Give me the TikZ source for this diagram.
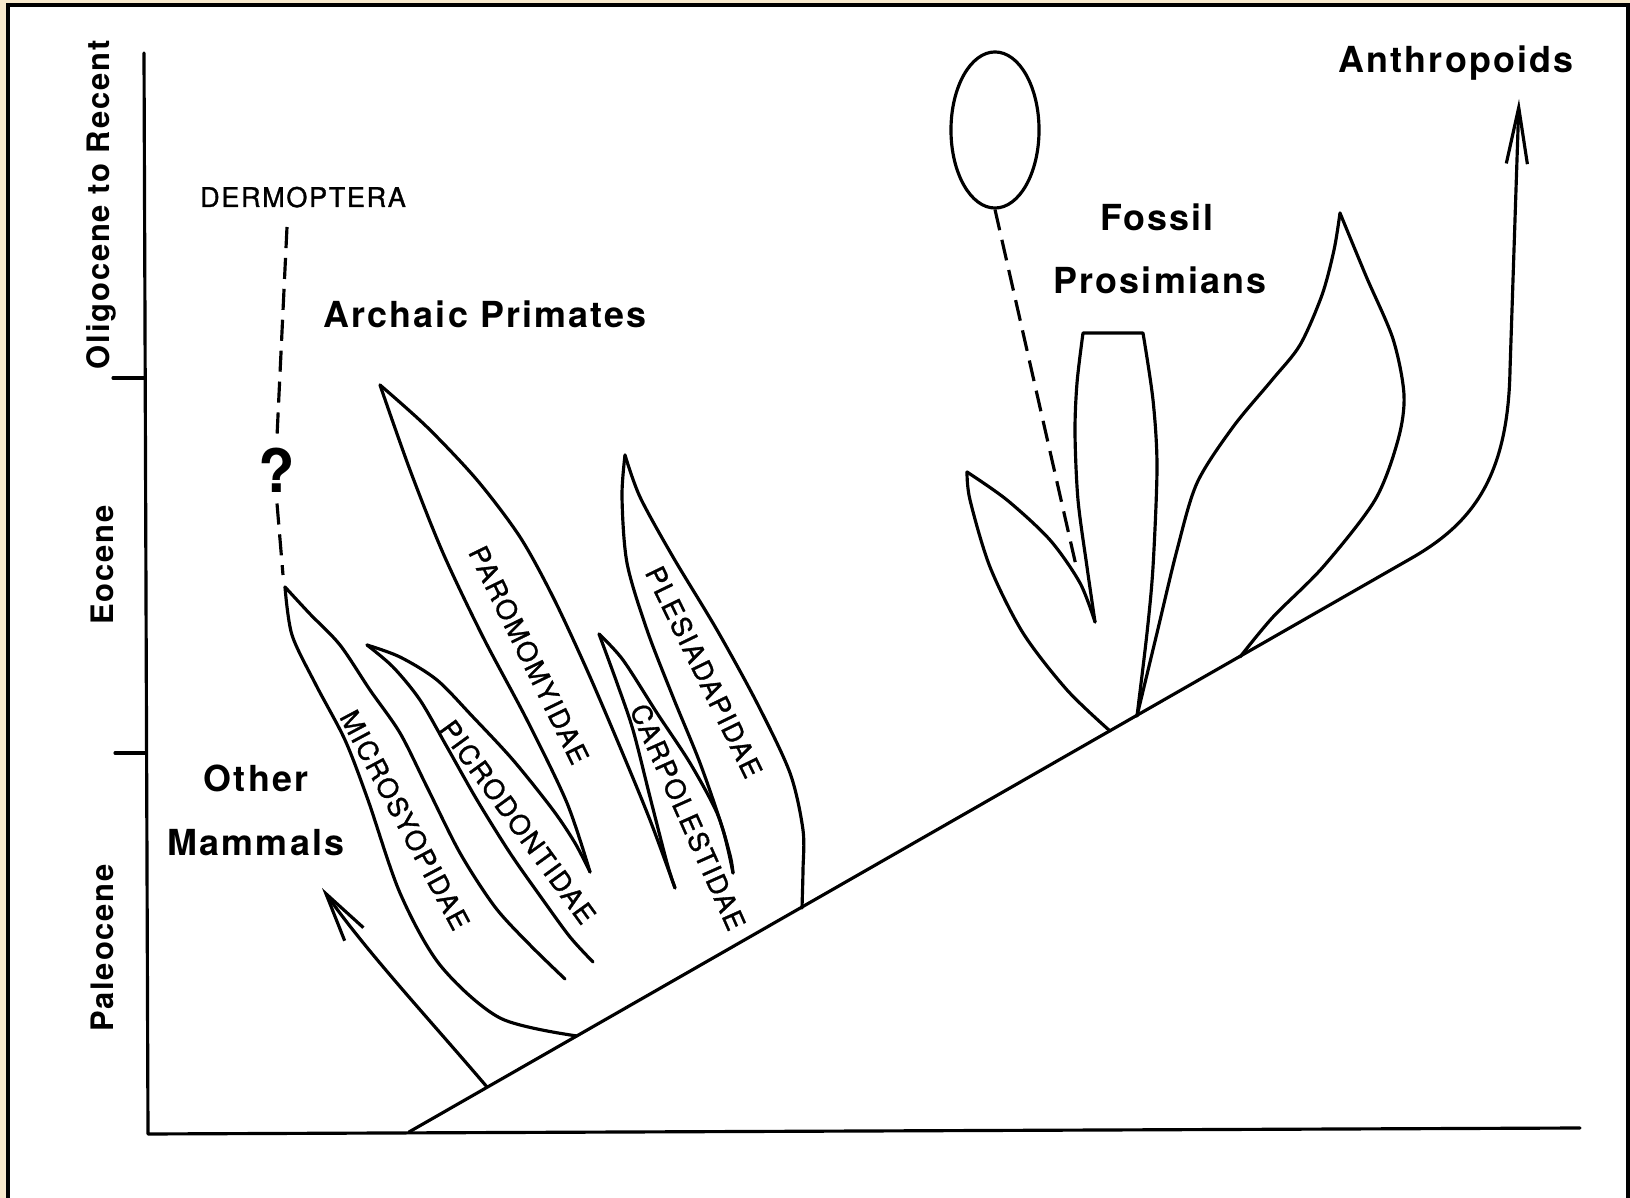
\documentclass[tikz,border=0pt]{standalone}
\usepackage{fontspec}
\setmainfont{TeX Gyre Heros}
\newfontfamily\lblfont[LetterSpace=6]{TeX Gyre Heros}
\newfontfamily\famfont[LetterSpace=6, FakeBold=1.2]{TeX Gyre Heros}
\usetikzlibrary{arrows.meta,shapes.geometric}
\definecolor{paper}{HTML}{F8E9CC}

\tikzset{
  branch/.style={line width=0.9pt, line join=round, line cap=round},
  linkdash/.style={line width=0.9pt, dash pattern=on 6pt off 2.8pt},
  grouplbl/.style={anchor=base, font=\lblfont\bfseries\fontsize{10.2}{12}\selectfont},
  eralbl/.style={anchor=base, rotate=90, font=\lblfont\bfseries\fontsize{8.8}{11}\selectfont},
  famlbl/.style={inner sep=0pt, font=\famfont\fontsize{7.7}{9}\selectfont},
  barb/.style={-{Straight Barb[length=14pt,width=6.5pt]}},
}

\begin{document}
\begin{tikzpicture}[x=0.01cm, y=-0.01cm]
	\useasboundingbox (0,0) rectangle (1630,1198);
	\fill[paper] (0,0) rectangle (1630,1198);
	\fill[white] (8,5) rectangle (1628,1198);
	\draw[line width=1.2pt] (8,1198) -- (8,5) -- (1628,5) -- (1628,1198);
	
	% time axis
	\draw[branch] (144,53) -- (148,1134) -- (1580,1128);
	\draw[branch] (113,378) -- (145,378);
	\draw[branch] (115,753) -- (146,753);
	\node[eralbl] (olig) at (110,205) {Oligocene to Recent};
	\node[eralbl] (eoc) at (113,565) {Eocene};
	\node[eralbl] (pal) at (113,948) {Paleocene};
	
	% main stem
	\coordinate (root) at (409,1132);
	\coordinate (antBend) at (1410,559);
	\coordinate (antTip) at (1519,99);
	\draw[branch, -{Straight Barb[length=16pt,width=6pt]}] (root) -- (antBend)
		.. controls (1470,525) and (1508,480) .. (1510,370) -- (antTip);
	
	\coordinate (mamBase) at (487,1087);
	\coordinate (mamTip) at (322,888);
	\draw[branch, barb] (mamBase) .. controls (430,1020) and (365,950) .. (mamTip);
	
	% archaic primates
	\coordinate (micTip) at (285,587);
	\coordinate (micBase) at (577,1036);
	\draw[branch] plot[smooth] coordinates {(micTip) (292,635) (316,685) (345,740) (368,800) (400,893) (440,965) (500,1018) (micBase)};
	\draw[branch] plot[smooth] coordinates {(micTip) (310,614) (340,645) (370,690) (400,733) (427,787) (460,853) (495,907) (530,945) (565,979)};
	
	\coordinate (picTip) at (367,645);
	\coordinate (picV) at (590,872);
	\draw[branch] plot[smooth] coordinates {(picTip) (393,667) (420,700) (447,747) (477,800) (510,853) (543,900) (570,937) (593,962)};
	\draw[branch] plot[smooth] coordinates {(picTip) (400,657) (437,680) (473,717) (513,760) (553,810) (575,843) (picV)};
	
	\coordinate (parTip) at (380,385);
	\coordinate (carV) at (675,888);
	\draw[branch] plot[smooth] coordinates {(parTip) (410,470) (443,553) (483,637) (527,720) (567,803) (picV)};
	\draw[branch] plot[smooth] coordinates {(parTip) (427,427) (477,480) (520,537) (553,597) (587,670) (620,747) (650,820) (carV)};
	
	\coordinate (carTip) at (599,634);
	\coordinate (pleV) at (733,873);
	\draw[branch] plot[smooth] coordinates {(carTip) (617,683) (633,730) (650,797) (667,863) (carV)};
	\draw[branch] plot[smooth] coordinates {(carTip) (623,660) (657,713) (690,763) (717,813) (730,855) (pleV)};
	
	\coordinate (pleTip) at (625,455);
	\coordinate (pleBase) at (802,908);
	\draw[branch] plot[smooth] coordinates {(pleTip) (622,497) (627,563) (647,630) (673,697) (700,763) (723,830) (pleV)};
	\draw[branch] plot[smooth] coordinates {(pleTip) (640,497) (673,557) (717,630) (757,703) (790,773) (803,830) (803,870) (pleBase)};
	
	\node[famlbl, rotate=-62] (micLbl) at (405,820) {MICROSYOPIDAE};
	\node[famlbl, rotate=-54] (picLbl) at (518,822) {PICRODONTIDAE};
	\node[famlbl, rotate=-64] (parLbl) at (529,655) {PAROMOMYIDAE};
	\node[famlbl, rotate=-66] (carLbl) at (688,817) {CARPOLESTIDAE};
	\node[famlbl, rotate=-64] (pleLbl) at (704,672) {PLESIADAPIDAE};
	
	% dermoptera link
	\node[famlbl, anchor=base] (derm) at (303,207) {DERMOPTERA};
	\node[inner sep=3pt, font=\lblfont\bfseries\fontsize{17}{20}\selectfont] (quest) at (277,470) {?};
	\coordinate (dermTop) at (287,227);
	\coordinate (dermEnd) at (283,575);
	\draw[linkdash] (dermTop) -- (quest.north);
	\draw[linkdash] (quest.south) -- (dermEnd);
	
	% prosimians
	\coordinate (fpTip) at (967,472);
	\coordinate (fpV) at (1095,622);
	\coordinate (fpBase) at (1110,731);
	\coordinate (colBase) at (1137,716);
	\coordinate (bigTip) at (1340,213);
	\coordinate (bigBase) at (1240,657);
	\draw[branch] plot[smooth] coordinates {(fpTip) (1007,500) (1050,540) (1080,583) (fpV)};
	\draw[branch] plot[smooth] coordinates {(fpTip) (970,500) (990,567) (1023,633) (1067,690) (fpBase)};
	\draw[branch] plot[smooth] coordinates {(fpV) (1087,567) (1078,500) (1075,433) (1077,383) (1083,333)}
		-- (1143,333) plot[smooth] coordinates {(1143,333) (1153,400) (1157,467) (1153,567) (1147,633) (colBase)};
	\draw[branch] plot[smooth] coordinates {(colBase) (1157,633) (1177,550) (1197,483) (1233,427) (1272,380) (1300,345) (1322,295) (1334,250) (bigTip)};
	\draw[branch] plot[smooth] coordinates {(bigTip) (1366,276) (1393,339) (1404,395) (1398,440) (1375,500) (1323,567) (1273,617) (bigBase)};
	
	\node[draw, ellipse, line width=0.9pt, inner sep=0pt, minimum width=0.88cm, minimum height=1.56cm] (oval) at (995,130) {};
	\coordinate (fpDash) at (1077,570);
	\draw[linkdash] (oval.south) -- (fpDash);
	
	% group labels
	\node[grouplbl] (archaic) at (485,328) {Archaic Primates};
	\node[grouplbl] (other) at (256,792) {Other};
	\node[grouplbl] (mammals) at (256,856) {Mammals};
	\node[grouplbl] (fossil) at (1157,231) {Fossil};
	\node[grouplbl] (prosim) at (1160,294) {Prosimians};
	\node[grouplbl] (anthro) at (1456,73) {Anthropoids};
\end{tikzpicture}
\end{document}
